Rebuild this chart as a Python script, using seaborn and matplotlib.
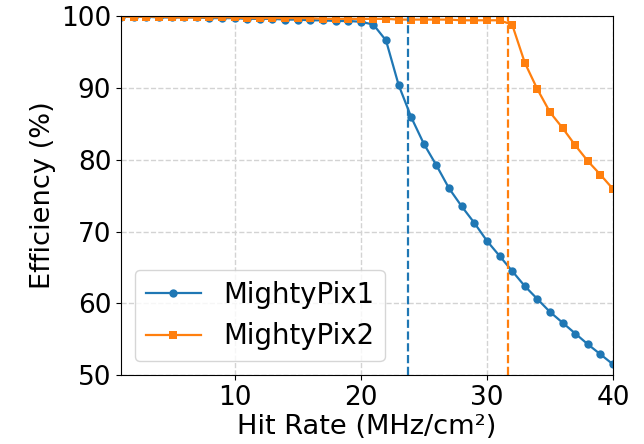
import numpy as np
import pandas as pd
import matplotlib
matplotlib.use('Agg')
import matplotlib.pyplot as plt
import seaborn as sns

hit_rate = list(range(1, 41))

mightypix1 = [99.9, 99.9, 99.9, 99.8, 99.8, 99.8, 99.8, 99.7, 99.7, 99.7,
              99.6, 99.6, 99.6, 99.5, 99.5, 99.4, 99.4, 99.3, 99.3, 99.2,
              98.8, 96.6, 90.4, 85.9, 82.2, 79.2, 76.0, 73.5, 71.2, 68.7,
              66.6, 64.5, 62.4, 60.6, 58.8, 57.3, 55.8, 54.3, 52.9, 51.5]

mightypix2 = [99.9, 99.9, 99.9, 99.9, 99.8, 99.8, 99.8, 99.8, 99.8, 99.8,
              99.7, 99.7, 99.7, 99.7, 99.7, 99.7, 99.6, 99.6, 99.6, 99.6,
              99.6, 99.6, 99.5, 99.5, 99.5, 99.5, 99.5, 99.4, 99.4, 99.4,
              99.4, 98.8, 93.5, 89.8, 86.6, 84.4, 82.0, 79.8, 77.9, 75.9]

thresholds = {'MightyPix1': 23.75, 'MightyPix2': 31.7}

df = pd.DataFrame({
    'Hit Rate': hit_rate * 2,
    'Efficiency': mightypix1 + mightypix2,
    'Chip': ['MightyPix1'] * len(hit_rate) + ['MightyPix2'] * len(hit_rate),
})

plt.rcParams['font.family'] = ['DejaVu Sans']
plt.rcParams['font.size'] = 19

colors = {'MightyPix1': '#1f77b4', 'MightyPix2': '#ff7f0e'}

fig = plt.figure(figsize=(6.44, 4.44), dpi=100)
ax = fig.add_axes([0.188, 0.155, 0.764, 0.809])

sns.lineplot(data=df, x='Hit Rate', y='Efficiency', hue='Chip', style='Chip',
             markers={'MightyPix1': 'o', 'MightyPix2': 's'}, dashes=False,
             palette=colors, markersize=6, linewidth=1.6, markeredgewidth=0,
             ax=ax)

for chip, xv in thresholds.items():
    ax.axvline(xv, color=colors[chip], linestyle='--', linewidth=1.6)

ax.set_xlim(1, 40)
ax.set_ylim(50, 100)
ax.set_xticks([10, 20, 30, 40])
ax.set_yticks([50, 60, 70, 80, 90, 100])
ax.tick_params(labelsize=19)
ax.grid(True, linestyle='--', color='#d3d3d3', linewidth=1)
ax.set_axisbelow(True)
ax.set_xlabel('Hit Rate (MHz/cm²)', fontsize=19.6, labelpad=2)
ax.set_ylabel('Efficiency (%)', fontsize=19.6)

ax.legend(title=None, loc='lower left', fontsize=19.8)

fig.savefig('out.png', dpi=100)
